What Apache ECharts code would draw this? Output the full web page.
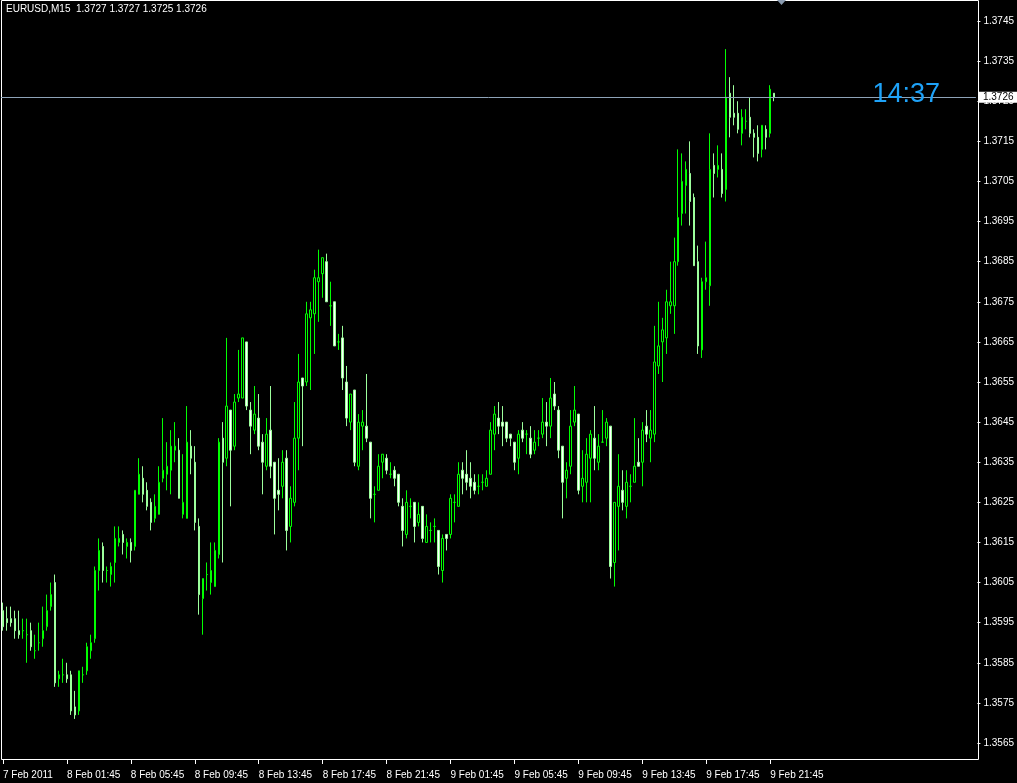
<!DOCTYPE html>
<html>
<head>
<meta charset="utf-8">
<script src="https://cdn.jsdelivr.net/npm/echarts@6/dist/echarts.min.js"></script>
<style>
html,body{margin:0;padding:0;background:#000;}
#chart{width:1017px;height:783px;}
</style>
</head>
<body>
<div id="chart"></div>
<script>
const symbolName = 'EURUSD,M15';
const lastBar = ['1.3727', '1.3727', '1.3725', '1.3726'];
const bidPrice = 1.3726;
const clockText = '14:37';
const tickLabels = ['7 Feb 2011','8 Feb 01:45','8 Feb 05:45','8 Feb 09:45','8 Feb 13:45','8 Feb 17:45','8 Feb 21:45','9 Feb 01:45','9 Feb 05:45','9 Feb 09:45','9 Feb 13:45','9 Feb 17:45','9 Feb 21:45'];
const yTicks = [1.3565,1.3575,1.3585,1.3595,1.3605,1.3615,1.3625,1.3635,1.3645,1.3655,1.3665,1.3675,1.3685,1.3695,1.3705,1.3715,1.3725,1.3735,1.3745];

const open = [1.3598,1.3596,1.3596,1.3596,1.3593,1.3593,1.3592,1.3593,1.3588,1.3590,
1.3591,1.3594,1.3599,1.3605,1.3581,1.3582,1.3582,1.3582,1.3574,1.3573,
1.3582,1.3583,1.3588,1.3591,1.3608,1.3614,1.3608,1.3607,1.3610,1.3615,
1.3617,1.3614,1.3615,1.3614,1.3627,1.3631,1.3628,1.3625,1.3621,1.3622,
1.3631,1.3632,1.3633,1.3638,1.3638,1.3622,1.3621,1.3639,1.3635,1.3619,
1.3601,1.3607,1.3605,1.3604,1.3612,1.3641,1.3636,1.3648,1.3639,1.3651,
1.3651,1.3665,1.3648,1.3643,1.3646,1.3640,1.3634,1.3643,1.3635,1.3628,
1.3629,1.3636,1.3619,1.3625,1.3641,1.3656,1.3655,1.3671,1.3672,1.3680,
1.3682,1.3685,1.3674,1.3675,1.3665,1.3666,1.3655,1.3645,1.3653,1.3634,
1.3644,1.3644,1.3640,1.3627,1.3628,1.3635,1.3636,1.3632,1.3633,1.3632,
1.3624,1.3617,1.3624,1.3625,1.3620,1.3624,1.3615,1.3618,1.3619,1.3618,
1.3608,1.3617,1.3617,1.3625,1.3624,1.3633,1.3632,1.3631,1.3630,1.3629,
1.3630,1.3629,1.3632,1.3642,1.3646,1.3645,1.3645,1.3642,1.3640,1.3636,
1.3643,1.3642,1.3641,1.3638,1.3641,1.3642,1.3645,1.3644,1.3652,1.3648,
1.3639,1.3631,1.3634,1.3645,1.3647,1.3629,1.3630,1.3636,1.3641,1.3635,
1.3640,1.3641,1.3644,1.3610,1.3624,1.3628,1.3624,1.3629,1.3630,1.3635,
1.3635,1.3644,1.3641,1.3642,1.3659,1.3665,1.3666,1.3674,1.3674,1.3685,
1.3697,1.3704,1.3707,1.3701,1.3685,1.3663,1.3680,1.3679,1.3709,1.3708,
1.3708,1.3703,1.3727,1.3722,1.3722,1.3717,1.3720,1.3721,1.3717,1.3716,
1.3713,1.3718,1.3717,1.3727];

const high = [1.3600,1.3599,1.3599,1.3598,1.3598,1.3596,1.3596,1.3595,1.3592,1.3595,
1.3599,1.3602,1.3605,1.3607,1.3583,1.3586,1.3585,1.3583,1.3578,1.3583,
1.3584,1.3590,1.3592,1.3609,1.3616,1.3615,1.3609,1.3610,1.3619,1.3619,
1.3618,1.3616,1.3616,1.3628,1.3636,1.3634,1.3630,1.3626,1.3627,1.3634,
1.3646,1.3640,1.3643,1.3645,1.3641,1.3637,1.3649,1.3643,1.3639,1.3621,
1.3606,1.3610,1.3615,1.3615,1.3641,1.3645,1.3666,1.3648,1.3652,1.3663,
1.3666,1.3665,1.3650,1.3654,1.3652,1.3642,1.3646,1.3654,1.3635,1.3636,
1.3638,1.3638,1.3629,1.3650,1.3662,1.3656,1.3675,1.3675,1.3683,1.3688,
1.3686,1.3687,1.3680,1.3675,1.3667,1.3669,1.3659,1.3652,1.3653,1.3647,
1.3648,1.3657,1.3640,1.3629,1.3637,1.3637,1.3637,1.3635,1.3634,1.3632,
1.3626,1.3628,1.3626,1.3625,1.3625,1.3624,1.3622,1.3620,1.3621,1.3618,
1.3617,1.3617,1.3627,1.3627,1.3635,1.3635,1.3638,1.3635,1.3632,1.3632,
1.3632,1.3633,1.3645,1.3649,1.3650,1.3649,1.3645,1.3642,1.3640,1.3643,
1.3645,1.3643,1.3644,1.3643,1.3643,1.3651,1.3650,1.3656,1.3655,1.3649,
1.3639,1.3635,1.3648,1.3654,1.3647,1.3638,1.3641,1.3643,1.3649,1.3642,
1.3648,1.3646,1.3644,1.3625,1.3637,1.3633,1.3633,1.3632,1.3646,1.3641,
1.3645,1.3648,1.3648,1.3669,1.3675,1.3671,1.3678,1.3685,1.3691,1.3713,
1.3712,1.3710,1.3715,1.3702,1.3689,1.3681,1.3690,1.3717,1.3712,1.3714,
1.3712,1.3738,1.3731,1.3729,1.3725,1.3723,1.3723,1.3726,1.3718,1.3719,
1.3719,1.3719,1.3729,1.3727];

const low = [1.3593,1.3593,1.3594,1.3591,1.3591,1.3591,1.3585,1.3588,1.3586,1.3588,
1.3589,1.3593,1.3598,1.3579,1.3579,1.3580,1.3580,1.3572,1.3571,1.3572,
1.3580,1.3582,1.3586,1.3590,1.3603,1.3605,1.3605,1.3604,1.3605,1.3614,
1.3612,1.3611,1.3610,1.3613,1.3627,1.3625,1.3623,1.3618,1.3620,1.3622,
1.3630,1.3628,1.3627,1.3635,1.3626,1.3621,1.3621,1.3632,1.3618,1.3597,
1.3592,1.3603,1.3602,1.3604,1.3611,1.3610,1.3634,1.3624,1.3638,1.3650,
1.3651,1.3648,1.3637,1.3642,1.3638,1.3627,1.3633,1.3631,1.3617,1.3623,
1.3626,1.3613,1.3615,1.3624,1.3633,1.3639,1.3654,1.3653,1.3662,1.3670,
1.3676,1.3675,1.3669,1.3664,1.3663,1.3653,1.3644,1.3643,1.3634,1.3633,
1.3638,1.3640,1.3621,1.3620,1.3628,1.3631,1.3632,1.3631,1.3629,1.3624,
1.3614,1.3616,1.3621,1.3615,1.3619,1.3615,1.3615,1.3615,1.3615,1.3607,
1.3605,1.3613,1.3616,1.3620,1.3624,1.3627,1.3628,1.3626,1.3627,1.3627,
1.3628,1.3629,1.3632,1.3638,1.3642,1.3639,1.3640,1.3639,1.3633,1.3632,
1.3640,1.3637,1.3636,1.3637,1.3639,1.3641,1.3639,1.3641,1.3648,1.3636,
1.3621,1.3626,1.3632,1.3644,1.3627,1.3625,1.3625,1.3625,1.3633,1.3633,
1.3640,1.3639,1.3606,1.3604,1.3613,1.3623,1.3621,1.3625,1.3630,1.3634,
1.3629,1.3640,1.3635,1.3640,1.3657,1.3655,1.3662,1.3672,1.3667,1.3684,
1.3694,1.3697,1.3694,1.3684,1.3662,1.3661,1.3678,1.3674,1.3701,1.3706,
1.3701,1.3700,1.3716,1.3719,1.3717,1.3714,1.3718,1.3716,1.3711,1.3710,
1.3711,1.3713,1.3716,1.3725];

const close = [1.3594,1.3595,1.3595,1.3593,1.3592,1.3593,1.3592,1.3589,1.3588,1.3590,
1.3593,1.3598,1.3602,1.3580,1.3582,1.3582,1.3581,1.3573,1.3572,1.3583,
1.3582,1.3589,1.3590,1.3608,1.3613,1.3608,1.3608,1.3609,1.3616,1.3616,
1.3615,1.3615,1.3613,1.3628,1.3632,1.3627,1.3624,1.3620,1.3624,1.3630,
1.3633,1.3634,1.3639,1.3639,1.3626,1.3625,1.3640,1.3636,1.3620,1.3602,
1.3606,1.3607,1.3608,1.3613,1.3640,1.3635,1.3649,1.3638,1.3650,1.3652,
1.3666,1.3649,1.3644,1.3647,1.3639,1.3635,1.3642,1.3634,1.3626,1.3627,
1.3635,1.3618,1.3626,1.3641,1.3655,1.3654,1.3672,1.3673,1.3681,1.3681,
1.3686,1.3675,1.3674,1.3664,1.3665,1.3656,1.3646,1.3652,1.3635,1.3645,
1.3645,1.3641,1.3626,1.3627,1.3634,1.3637,1.3633,1.3632,1.3631,1.3625,
1.3618,1.3625,1.3624,1.3619,1.3622,1.3616,1.3619,1.3618,1.3619,1.3609,
1.3616,1.3616,1.3626,1.3625,1.3632,1.3631,1.3630,1.3629,1.3628,1.3629,
1.3630,1.3631,1.3643,1.3647,1.3644,1.3644,1.3641,1.3641,1.3635,1.3642,
1.3641,1.3642,1.3637,1.3640,1.3641,1.3645,1.3644,1.3651,1.3649,1.3638,
1.3630,1.3633,1.3644,1.3648,1.3628,1.3631,1.3637,1.3642,1.3636,1.3639,
1.3640,1.3645,1.3609,1.3625,1.3629,1.3625,1.3630,1.3629,1.3634,1.3634,
1.3643,1.3642,1.3643,1.3660,1.3664,1.3668,1.3675,1.3675,1.3685,1.3696,
1.3705,1.3708,1.3700,1.3684,1.3664,1.3680,1.3681,1.3708,1.3707,1.3709,
1.3702,1.3726,1.3721,1.3721,1.3718,1.3721,1.3720,1.3717,1.3716,1.3712,
1.3719,1.3716,1.3728,1.3726];

const BARS_PER_LABEL = 16;
const SLOTS = 244; // visible bar slots incl. right chart shift
const categories = [];
for (let i = 0; i < SLOTS; i++) categories.push(String(i));
const ohlc = open.map((o, i) => [o, close[i], low[i], high[i]]);

const FONT = '"Liberation Sans", Arial, sans-serif';
const FS = 10;
const showTick = (idx) => idx % BARS_PER_LABEL === 0 && idx / BARS_PER_LABEL < tickLabels.length;

const chart = echarts.init(document.getElementById('chart'), null, {renderer: 'canvas'});
chart.setOption({
  backgroundColor: '#000000',
  animation: false,
  title: {
    text: symbolName + '  ' + lastBar.join(' '),
    left: 6, top: 4, padding: 0,
    textStyle: {color: '#ffffff', fontSize: FS, fontWeight: 'normal', fontFamily: FONT}
  },
  grid: {left: 0.5, top: 0, width: 976, height: 760},
  xAxis: {
    type: 'category',
    data: categories,
    boundaryGap: true,
    axisLine: {show: false},
    axisTick: {show: true, alignWithLabel: true, length: 4, interval: (idx) => showTick(idx), lineStyle: {color: '#ffffff'}},
    axisLabel: {
      interval: (idx) => showTick(idx),
      formatter: (v, idx) => showTick(idx) ? tickLabels[idx / BARS_PER_LABEL] : '',
      color: '#ffffff', fontSize: FS, fontFamily: FONT, align: 'left', margin: 10
    },
    splitLine: {show: false}
  },
  yAxis: {
    type: 'value',
    position: 'right',
    offset: 1.5,
    min: 1.356076,
    max: 1.375024,
    scale: true,
    axisLine: {show: false},
    axisTick: {show: true, length: 3, customValues: yTicks, lineStyle: {color: '#ffffff'}},
    axisLabel: {customValues: yTicks, formatter: (v) => v.toFixed(4), color: '#ffffff', fontSize: FS, fontFamily: FONT, margin: 6},
    splitLine: {show: false}
  },
  graphic: [
    {type: 'rect', z: 0, silent: true, shape: {x: 1.5, y: 0.5, width: 977, height: 759}, style: {fill: 'none', stroke: '#ffffff', lineWidth: 1}},
    {type: 'polygon', z: 10, silent: true, shape: {points: [[777, 0], [786, 0], [781.5, 5]]}, style: {fill: '#8a9bb0'}},
    {type: 'text', z: 10, silent: true, right: 77, top: 81, style: {text: clockText, fill: '#1ea2f8', font: '27px "Liberation Sans", Arial, sans-serif'}}
  ],
  series: [{
    type: 'candlestick',
    data: ohlc,
    barWidth: 2,
    itemStyle: {
      color: '#000000', color0: '#ffffff',
      borderColor: '#00ff00', borderColor0: '#9cff9c', borderColorDoji: '#00ff00',
      borderWidth: 1
    }
  }, {
    type: 'line',
    data: [],
    silent: true,
    markLine: {
      silent: true,
      precision: 4,
      symbol: ['none', 'none'],
      lineStyle: {color: '#8ea3b8', type: 'solid', width: 1},
      label: {
        show: true, position: 'end', distance: 3,
        formatter: () => bidPrice.toFixed(4),
        color: '#000000', backgroundColor: '#ffffff',
        fontSize: FS, fontFamily: FONT, padding: [1, 8, 0, 4], lineHeight: 10
      },
      data: [{yAxis: bidPrice}]
    }
  }]
});
</script>
</body>
</html>
